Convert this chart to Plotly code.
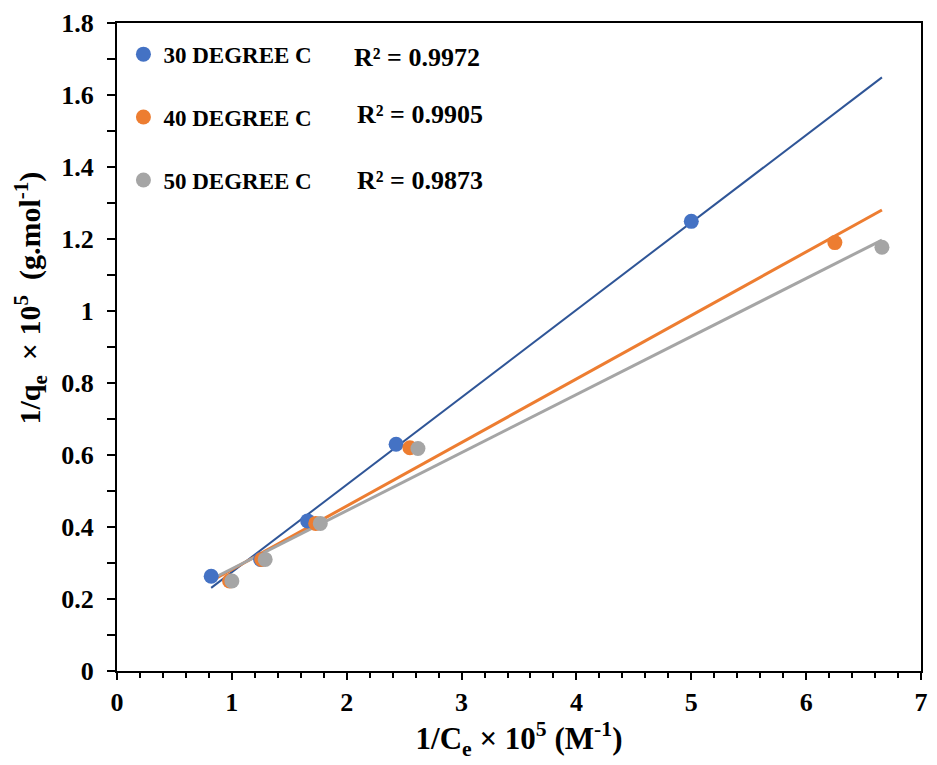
import numpy as np
import plotly.graph_objects as go

# data
x30 = [0.82, 1.25, 1.66, 2.43, 5.0]
y30 = [0.263, 0.31, 0.417, 0.63, 1.249]
x40 = [0.98, 1.26, 1.73, 2.55, 6.25]
y40 = [0.25, 0.31, 0.41, 0.62, 1.19]
x50 = [1.0, 1.29, 1.77, 2.62, 6.66]
y50 = [0.25, 0.31, 0.41, 0.618, 1.177]
names = ["30 DEGREE C", "40 DEGREE C", "50 DEGREE C"]
r2_labels = ["R² = 0.9972", "R² = 0.9905", "R² = 0.9873"]
r2_pos = [(2.61, 1.703), (2.64, 1.547), (2.64, 1.362)]

marker_colors = ["#4472C4", "#ED7D31", "#A5A5A5"]
line_colors = ["#2F5597", "#ED7D31", "#A5A5A5"]
line_widths = [2, 3, 3]

FONT = "Liberation Serif"
series = [(x30, y30), (x40, y40), (x50, y50)]
allx = x30 + x40 + x50
xr = np.array([min(allx), max(allx)])

fig = go.Figure()
for i, (xs, ys) in enumerate(series):
    m, b = np.polyfit(xs, ys, 1)
    fig.add_trace(go.Scatter(x=xr, y=m * xr + b, mode="lines",
                             line=dict(color=line_colors[i], width=line_widths[i]),
                             showlegend=False, hoverinfo="skip"))
for i, (xs, ys) in enumerate(series):
    fig.add_trace(go.Scatter(x=xs, y=ys, mode="markers", name=names[i],
                             legendgroup=str(i),
                             marker=dict(color=marker_colors[i], size=15)))

for lab, (ax, ay) in zip(r2_labels, r2_pos):
    fig.add_annotation(x=ax, y=ay, text="<b>" + lab + "</b>", showarrow=False,
                       font=dict(family=FONT, size=26, color="black"))

# y-axis title as a rotated text annotation (placed higher, as in the reference)
fig.add_annotation(xref="paper", yref="paper", x=-0.108, y=0.575,
                   text="<b>1/q<sub>e</sub>  × 10<sup>5</sup>  (g.mol<sup>-1</sup>)</b>",
                   textangle=-90, showarrow=False, xanchor="center", yanchor="middle",
                   font=dict(family=FONT, size=30, color="black"))

axis_common = dict(showline=True, linecolor="black", linewidth=2, mirror=True,
                   showgrid=False, zeroline=False, ticks="outside",
                   tickcolor="black", tickwidth=1.5,
                   tickfont=dict(family=FONT, size=26, color="black", weight="bold"))

fig.update_xaxes(range=[0, 7], dtick=1, ticklen=7,
                 minor=dict(dtick=0.2, ticks="outside", ticklen=5, tickcolor="black", tickwidth=1.5),
                 title=dict(text="<b>1/C<sub>e</sub> × 10<sup>5</sup> (M<sup>-1</sup>)</b>",
                            font=dict(family=FONT, size=31, color="black"), standoff=8),
                 **axis_common)
fig.update_yaxes(range=[0, 1.8], dtick=0.2, ticklen=8, ticklabelstandoff=8,
                 minor=dict(dtick=0.1, ticks="outside", ticklen=8, tickcolor="black", tickwidth=1.5),
                 **axis_common)

fig.update_layout(width=937, height=765, margin=dict(l=117, r=9, t=22, b=94),
                  plot_bgcolor="white", paper_bgcolor="white",
                  legend=dict(x=0.008, y=0.985, xanchor="left", yanchor="top",
                              tracegroupgap=30, bgcolor="rgba(0,0,0,0)",
                              font=dict(family=FONT, size=23, color="black", weight="bold")),
                  showlegend=True)

fig.write_html("out.html")
